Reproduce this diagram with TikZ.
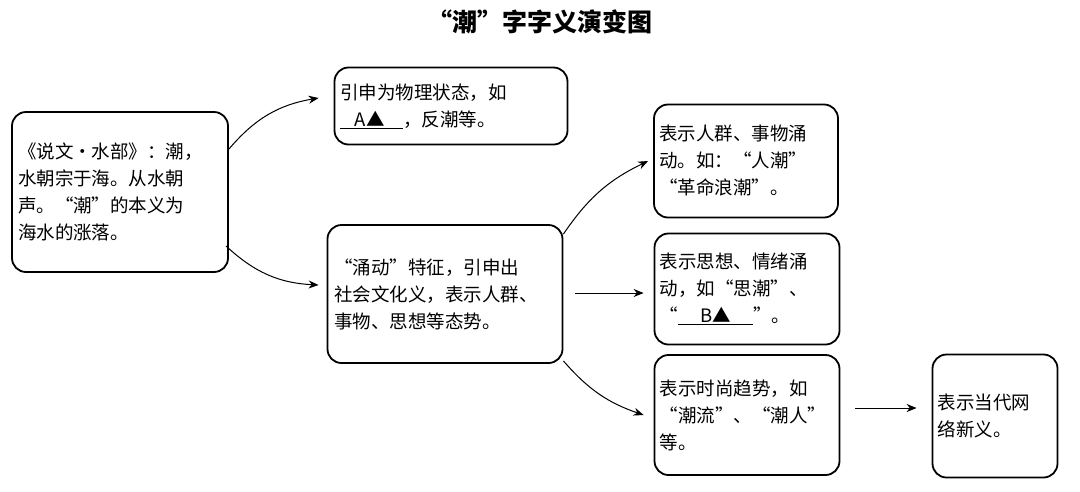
\documentclass[tikz,border=0pt]{standalone}
\usepackage{fontspec}
\setmainfont{Noto Sans CJK SC}
\usetikzlibrary{calc,arrows.meta}
\begin{document}
\begin{tikzpicture}[x=1pt,y=-1pt,
  box/.style={draw,line width=1.8pt,rounded corners=14pt,align=left,inner sep=5pt,font=\fontsize{18.5}{27}\selectfont,anchor=center},
  arr/.style={-{Stealth[length=10pt,width=8pt]},line width=1pt}]
\useasboundingbox (0,0) rectangle (1080,491);
\node[font=\fontsize{25}{28}\selectfont\bfseries] (title) at (540,22) {“潮”字字义演变图};
\node[box,minimum width=216pt,minimum height=160pt,text width=204pt] (b1) at (120,192) {《说文・水部》：潮，\\水朝宗于海。从水朝\\声。“潮”的本义为\\海水的涨落。};
\node[box,minimum width=233pt,minimum height=77pt,text width=222pt] (b2) at (451,106) {引申为物理状态，如\\\underline{\hspace{0.8em}A▲\hspace{1em}}，反潮等。};
\node[box,minimum width=235pt,minimum height=138pt,text width=222pt] (b3) at (445,294) {“涌动”特征，引申出\\社会文化义，表示人群、\\事物、思想等态势。};
\node[box,minimum width=183pt,minimum height=113pt,text width=174pt] (b4) at (746,161) {表示人群、事物涌\\动。如：“人潮”\\“革命浪潮”。};
\node[box,minimum width=185pt,minimum height=111pt,text width=175pt] (b5) at (747,289) {表示思想、情绪涌\\动，如“思潮”、\\“\underline{\hspace{1.2em}B▲\hspace{1.2em}}”。};
\node[box,minimum width=185pt,minimum height=120pt,text width=175pt] (b6) at (747,415) {表示时尚趋势，如\\“潮流”、“潮人”\\等。};
\node[box,minimum width=125pt,minimum height=123pt,text width=115pt] (b7) at (995,416) {表示当代网\\络新义。};
\draw[arr] ($(b1.north east)+(0,38)$) to[bend left=20] ($(b2.west)+(-15,-8)$);
\draw[arr] ($(b1.south east)+(-3,-27)$) to[bend right=20] ($(b3.west)+(-8,-9)$);
\draw[arr] ($(b3.north east)+(0,10)$) to[bend left=15] ($(b4.west)+(-5,0)$);
\draw[arr] ($(b3.east)+(12,-1)$) -- ($(b5.west)+(-10,4)$);
\draw[arr] ($(b3.south east)+(0,-3)$) to[bend right=15] ($(b6.west)+(-10,0)$);
\draw[arr] ($(b6.east)+(15,-7)$) -- ($(b7.west)+(-15,-8)$);
\end{tikzpicture}
\end{document}
